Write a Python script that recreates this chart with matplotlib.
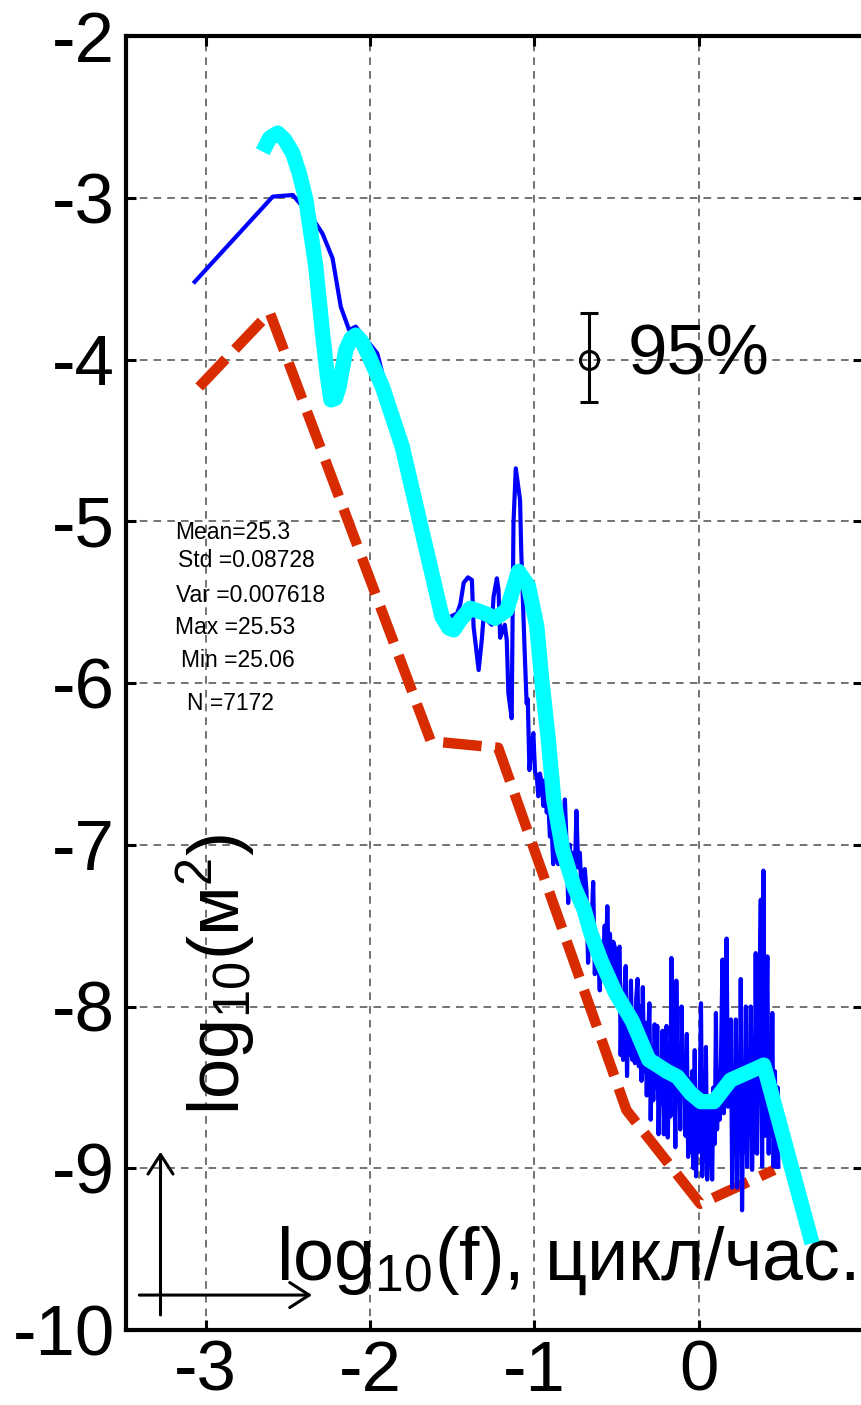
import numpy as np
import matplotlib
matplotlib.use('Agg')
import matplotlib.pyplot as plt

plt.rcParams['font.family'] = ['Liberation Sans', 'DejaVu Sans']
plt.rcParams['mathtext.fontset'] = 'custom'
plt.rcParams['mathtext.rm'] = 'Liberation Sans'
plt.rcParams['mathtext.it'] = 'Liberation Sans:italic'
plt.rcParams['axes.unicode_minus'] = False

# raw spectrum, log10 f vs log10 S
spec_x = [-3.067, -2.592, -2.47, -2.35, -2.29, -2.228, -2.178, -2.127, -2.087, -1.956,
          -1.925, -1.85, -1.764, -1.68, -1.60, -1.53, -1.47, -1.45, -1.43, -1.404,
          -1.38, -1.37, -1.339, -1.32, -1.309, -1.259, -1.248, -1.228, -1.218, -1.208,
          -1.18, -1.168, -1.158, -1.138, -1.127, -1.113, -1.087, -1.08,
          -1.060, -1.047, -1.040, -1.030, -1.018, -1.006, -0.996, -0.985, -0.976, -0.966,
          -0.955, -0.945, -0.935, -0.925, -0.915, -0.905, -0.895, -0.885, -0.875, -0.865,
          -0.855, -0.845, -0.835, -0.825, -0.814, -0.804, -0.794, -0.784, -0.774, -0.764,
          -0.754, -0.744, -0.733, -0.723, -0.713, -0.703, -0.693, -0.683, -0.673, -0.663,
          -0.652, -0.642, -0.632, -0.622, -0.612, -0.602, -0.592, -0.582, -0.572, -0.564,
          -0.556, -0.548, -0.540, -0.530, -0.520, -0.511, -0.500, -0.490,
          -0.481, -0.475, -0.468, -0.460, -0.452, -0.444, -0.436, -0.428, -0.420, -0.412,
          -0.404, -0.396, -0.388, -0.380, -0.372, -0.364, -0.356, -0.348, -0.340, -0.332,
          -0.324, -0.316, -0.308, -0.300, -0.292, -0.284, -0.276, -0.268, -0.260, -0.252,
          -0.244, -0.236, -0.228, -0.220, -0.212, -0.204, -0.196, -0.188, -0.180, -0.172,
          -0.166, -0.158, -0.150, -0.142, -0.136, -0.128, -0.120, -0.112, -0.104, -0.096,
          -0.088, -0.080, -0.072, -0.064, -0.056, -0.048, -0.040, -0.032, -0.024, -0.016,
          -0.008, 0.000, 0.008, 0.014, 0.022, 0.030, 0.038, 0.044, 0.052, 0.060,
          0.068, 0.075, 0.082, 0.090, 0.098, 0.105, 0.112, 0.120, 0.128, 0.136,
          0.145, 0.152, 0.160, 0.170, 0.178, 0.186, 0.196, 0.204, 0.212, 0.220,
          0.226, 0.234, 0.242, 0.250, 0.256, 0.264, 0.272, 0.280, 0.287, 0.295,
          0.303, 0.310, 0.317, 0.325, 0.333, 0.340, 0.347, 0.355, 0.362, 0.370,
          0.378, 0.386, 0.394, 0.402, 0.410, 0.418, 0.426, 0.434, 0.441, 0.448,
          0.456, 0.464, 0.472, 0.480, 0.485]
spec_y = [-3.52, -2.993, -2.983, -3.127, -3.22, -3.374, -3.674, -3.818, -3.797, -3.962,
          -4.085, -4.40, -4.80, -5.12, -5.42, -5.60, -5.57, -5.51, -5.38, -5.347,
          -5.363, -5.65, -5.92, -5.734, -5.59, -5.64, -5.466, -5.353, -5.425, -5.72,
          -5.64, -5.734, -6.064, -6.218, -5.013, -4.673, -4.868, -5.178,
          -5.775, -6.126, -6.10, -6.538, -6.40, -6.31, -6.548, -6.58, -6.70, -6.56,
          -6.62, -6.76, -6.60, -6.80, -6.75, -6.95, -6.89, -7.12, -6.95, -7.05,
          -7.12, -6.95, -7.10, -6.90, -6.72, -7.00, -7.36, -7.00, -7.25, -7.05,
          -7.20, -6.79, -7.14, -7.05, -7.30, -7.38, -7.15, -7.28, -7.73, -7.40,
          -7.50, -7.23, -7.80, -7.55, -7.65, -7.90, -7.60, -7.75, -7.50, -7.72,
          -7.38, -7.71, -7.55, -7.80, -7.60, -7.63, -7.82, -7.65,
          -7.63, -8.30, -7.95, -8.33, -7.90, -7.75, -8.43, -8.05, -8.30, -7.84,
          -8.33, -8.10, -8.35, -7.95, -7.83, -8.37, -8.00, -8.46, -7.88, -8.40,
          -8.10, -8.55, -8.20, -7.98, -8.70, -8.25, -8.58, -8.11, -8.50, -8.12,
          -8.79, -8.35, -8.60, -8.15, -8.79, -8.30, -8.12, -8.81, -8.40, -8.68,
          -7.70, -8.55, -8.20, -8.87, -7.84, -8.60, -8.30, -8.76, -8.00, -8.50,
          -8.35, -8.80, -8.17, -8.93, -8.45, -8.90, -8.40, -9.00, -8.27, -9.05,
          -8.60, -8.90, -8.45, -7.98, -9.05, -8.50, -8.95, -8.25, -9.07, -8.60,
          -8.95, -8.78, -9.07, -8.50, -8.85, -8.04, -8.76, -8.40, -8.70, -8.30,
          -7.71, -8.66, -8.20, -7.58, -8.62, -8.30, -8.08, -9.12, -8.50, -8.90,
          -8.08, -9.12, -8.40, -8.80, -7.83, -9.26, -8.50, -8.90, -8.00, -8.99,
          -8.40, -8.80, -8.00, -9.01, -8.50, -8.90, -7.67, -8.91, -8.30, -7.90,
          -7.34, -8.99, -7.16, -8.80, -8.20, -7.69, -8.91, -8.30, -8.80, -8.04,
          -8.99, -8.40, -8.99, -8.50, -8.99]

# smoothed spectrum
smooth_x = [-2.653, -2.61, -2.562, -2.52, -2.47, -2.43, -2.39, -2.33, -2.289, -2.26,
            -2.238, -2.21, -2.188, -2.147, -2.115, -2.087, -2.05, -2.006, -1.925, -1.804,
            -1.562, -1.52, -1.491, -1.45, -1.39, -1.30, -1.239, -1.168, -1.097, -1.036,
            -0.985, -0.955, -0.915, -0.882, -0.828, -0.758, -0.697, -0.656, -0.596, -0.505,
            -0.404, -0.303, -0.271, -0.19, -0.13, -0.048, 0.012, 0.093, 0.194, 0.376,
            0.396, 0.69]
smooth_y = [-2.715, -2.63, -2.60, -2.64, -2.725, -2.85, -3.014, -3.426, -3.838, -4.10,
            -4.25, -4.24, -4.168, -3.94, -3.87, -3.849, -3.89, -3.98, -4.168, -4.539,
            -5.59, -5.66, -5.672, -5.61, -5.538, -5.57, -5.60, -5.55, -5.31, -5.40,
            -5.65, -5.98, -6.35, -6.72, -7.03, -7.26, -7.40, -7.547, -7.712, -7.918,
            -8.09, -8.33, -8.35, -8.403, -8.434, -8.537, -8.588, -8.588, -8.455, -8.372,
            -8.362, -9.464]

# lower confidence bound
low_x = [-3.04, -2.61, -1.63, -1.22, -0.44, 0.01, 0.46]
low_y = [-4.17, -3.71, -6.36, -6.40, -8.64, -9.22, -9.01]

stats = ['Mean=25.3', 'Std =0.08728', 'Var =0.007618', 'Max =25.53', 'Min =25.06', 'N =7172']
stats_x = [-3.188, -3.17, -3.18, -3.188, -3.15, -3.115]
stats_y = [-5.07, -5.24, -5.456, -5.654, -5.858, -6.124]

ci_x, ci_y = -0.67, -4.0
ci_lo, ci_hi = -4.26, -3.71

fig = plt.figure(figsize=(8.61, 14.05), dpi=100)
ax = fig.add_axes([126/861, 75/1405, 737/861, 1294/1405])

ax.plot(low_x, low_y, color='#d92b00', lw=7.5, dashes=(3.7, 1.3),
        dash_capstyle='butt', zorder=3)
ax.plot(spec_x, spec_y, color='#0000ff', lw=3.0, zorder=4)
ax.plot(smooth_x, smooth_y, color='#00ffff', lw=11, solid_capstyle='butt',
        solid_joinstyle='round', zorder=5)

for s, x, y in zip(stats, stats_x, stats_y):
    ax.text(x, y, s, fontsize=16.5, ha='left', va='center', zorder=6)

ax.errorbar([ci_x], [ci_y], yerr=[[ci_y - ci_lo], [ci_hi - ci_y]], fmt='o',
            color='k', mfc='none', ms=13, mew=2.2, lw=2.2, capsize=6.5,
            capthick=2.2, zorder=6)
ax.text(-0.43, -3.98, '95%', fontsize=51, ha='left', va='center')

# axis hints drawn inside the frame
arw = dict(arrowstyle='->,head_length=0.7,head_width=0.45', lw=2.2, color='k',
           shrinkA=0, shrinkB=0, mutation_scale=20)
ax.annotate('', xy=(-3.275, -8.898), xytext=(-3.275, -9.907), arrowprops=arw)
ax.annotate('', xy=(-2.353, -9.784), xytext=(-3.404, -9.784), arrowprops=arw)
ax.text(-2.57, -9.69, 'log$_{10}$(f), цикл/час.', fontsize=53,
        ha='left', va='baseline')
ax.text(-2.795, -8.671, 'log$_{10}$(м$^2$)', fontsize=52, rotation=90,
        rotation_mode='anchor', ha='left', va='baseline')

ax.set_xlim(-3.485, 1.0)
ax.set_ylim(-10, -2)
ax.set_xticks([-3, -2, -1, 0])
ax.set_yticks(np.arange(-10, -1))
ax.grid(True, color='0.3', linestyle=(0, (5, 4)), lw=1.1)
ax.set_axisbelow(True)
ax.tick_params(direction='in', length=7, width=2.2, labelsize=51,
               top=True, right=True)
ax.tick_params(axis='y', pad=8)
ax.tick_params(axis='x', pad=7)
for sp in ax.spines.values():
    sp.set_linewidth(3)

fig.savefig('out.png', dpi=100)
